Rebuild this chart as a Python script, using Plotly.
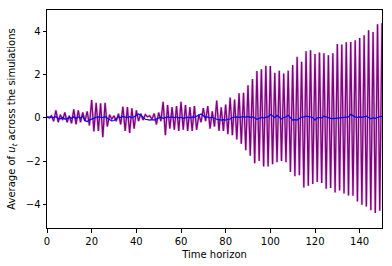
import plotly.graph_objects as go

t = list(range(151))

purple_vals = [
    0.05, 0.0, 0.1, -0.15, 0.35, -0.2, 0.15, -0.1, 0.25, -0.2,
    0.1, -0.25, 0.4, -0.3, 0.35, -0.2, 0.25, -0.15, 0.3, -0.35,
    0.83, -0.63, 0.7, -0.6, 0.68, -0.89, 0.7, -0.4, 0.15, -0.05,
    0.1, -0.15, 0.2, -0.3, 0.52, -0.6, 0.5, -0.7, 0.45, -0.5,
    0.35, -0.15, 0.2, -0.1, 0.15, 0.05, 0.1, -0.05, 0.2, -0.3,
    0.25, -0.15, 0.75, -0.8, 0.6, -0.5, 0.5, -0.55, 0.55, -0.6,
    0.75, -0.55, 0.6, -0.6, 0.5, -0.6, 0.55, -0.55, 0.15, -0.2,
    0.45, -0.15, 0.55, -0.5, 0.3, -0.4, 0.8, -0.6, 0.49, -0.6,
    0.62, -0.75, 0.94, -0.8, 0.85, -1.0, 1.14, -1.2, 1.17, -1.5,
    1.51, -1.75, 1.8, -2.1, 2.17, -2.0, 2.25, -2.25, 2.42, -2.25,
    2.4, -2.15, 2.09, -2.05, 2.19, -2.0, 2.06, -2.05, 2.19, -2.5,
    2.45, -2.7, 2.83, -2.65, 2.6, -3.22, 3.09, -3.14, 3.14, -3.06,
    2.96, -2.97, 3.03, -3.02, 3.0, -3.28, 2.9, -3.25, 3.0, -3.45,
    3.42, -3.36, 3.4, -3.5, 3.5, -3.59, 3.52, -3.6, 3.6, -3.87,
    3.7, -4.02, 3.83, -4.1, 4.06, -4.28, 3.98, -4.4, 4.34, -4.3,
    4.4,
]

blue_vals = [
    0.04, 0.05, 0.04, 0.02, 0.06, -0.02, -0.04, 0.02, -0.05, -0.03,
    0.03, -0.02, 0.05, -0.03, 0.04, 0.0, 0.08, -0.12, -0.17, -0.1,
    -0.05, 0.0, 0.03, 0.05, 0.04, 0.02, 0.06, 0.0, -0.05, -0.14,
    -0.12, -0.02, 0.05, 0.02, 0.07, 0.04, 0.02, 0.06, 0.0, 0.05,
    0.12, 0.18, 0.12, 0.03, -0.06, -0.08, -0.1, -0.08, -0.1, -0.05,
    0.0, 0.03, -0.02, 0.02, 0.05, 0.03, 0.05, 0.02, 0.04, 0.0,
    0.03, -0.02, 0.01, 0.04, 0.0, 0.05, 0.03, 0.08, 0.15, 0.18,
    0.1, 0.02, 0.05, 0.0, 0.03, -0.03, -0.06, -0.08, -0.1, -0.08,
    -0.1, -0.06, -0.05, 0.02, 0.04, 0.05, 0.03, 0.05, 0.06, 0.04,
    0.07, 0.03, 0.05, 0.0, -0.06, -0.02, 0.02, 0.0, 0.03, 0.05,
    0.16, 0.08, 0.02, 0.12, 0.04, -0.05, 0.02, 0.05, 0.12, 0.0,
    -0.1, -0.08, -0.1, -0.03, 0.03, 0.05, 0.08, 0.06, 0.05, 0.02,
    -0.1, 0.0, 0.02, 0.0, 0.08, 0.04, 0.02, -0.02, -0.03, -0.02,
    -0.03, -0.02, -0.01, 0.0, 0.02, 0.05, 0.17, 0.1, 0.04, 0.03,
    0.05, 0.03, 0.04, 0.08, 0.02, -0.04, 0.0, -0.02, 0.02, 0.05,
    0.08,
]

x_ticks = [0, 20, 40, 60, 80, 100, 120, 140]
y_ticks = [-4, -2, 0, 2, 4]

fig = go.Figure()
fig.add_trace(go.Scatter(x=t, y=purple_vals, mode="lines",
                         line=dict(color="rgba(128,0,128,0.25)", width=2.6),
                         hoverinfo="skip", showlegend=False))
fig.add_trace(go.Scatter(x=t, y=purple_vals, mode="lines",
                         line=dict(color="purple", width=1.3), showlegend=False))
fig.add_trace(go.Scatter(x=t, y=blue_vals, mode="lines",
                         line=dict(color="blue", width=1.2), showlegend=False))

axis_common = dict(showline=True, mirror=True, linecolor="black", linewidth=1,
                   ticks="outside", ticklen=3.5, tickwidth=1, tickcolor="black",
                   showgrid=False, zeroline=False, automargin=False,
                   tickfont=dict(size=10, color="black"))

fig.update_layout(
    width=392, height=266,
    margin=dict(l=47, r=10, t=10, b=38),
    paper_bgcolor="white", plot_bgcolor="white",
    font=dict(family="DejaVu Sans", size=10, color="black"),
    xaxis=dict(range=[0, 150], tickvals=x_ticks,
               title=dict(text="Time horizon", font=dict(size=10), standoff=5),
               **axis_common),
    yaxis=dict(range=[-5.1, 5.0], tickvals=y_ticks,
               title=dict(text="Average of <i>u</i><sub><i>t</i></sub> across the simulations",
                          font=dict(size=10), standoff=8),
               **axis_common),
)

fig.write_html("out.html", config={"displayModeBar": False},
               post_script="document.body.style.margin='0';document.body.style.overflow='hidden';")
